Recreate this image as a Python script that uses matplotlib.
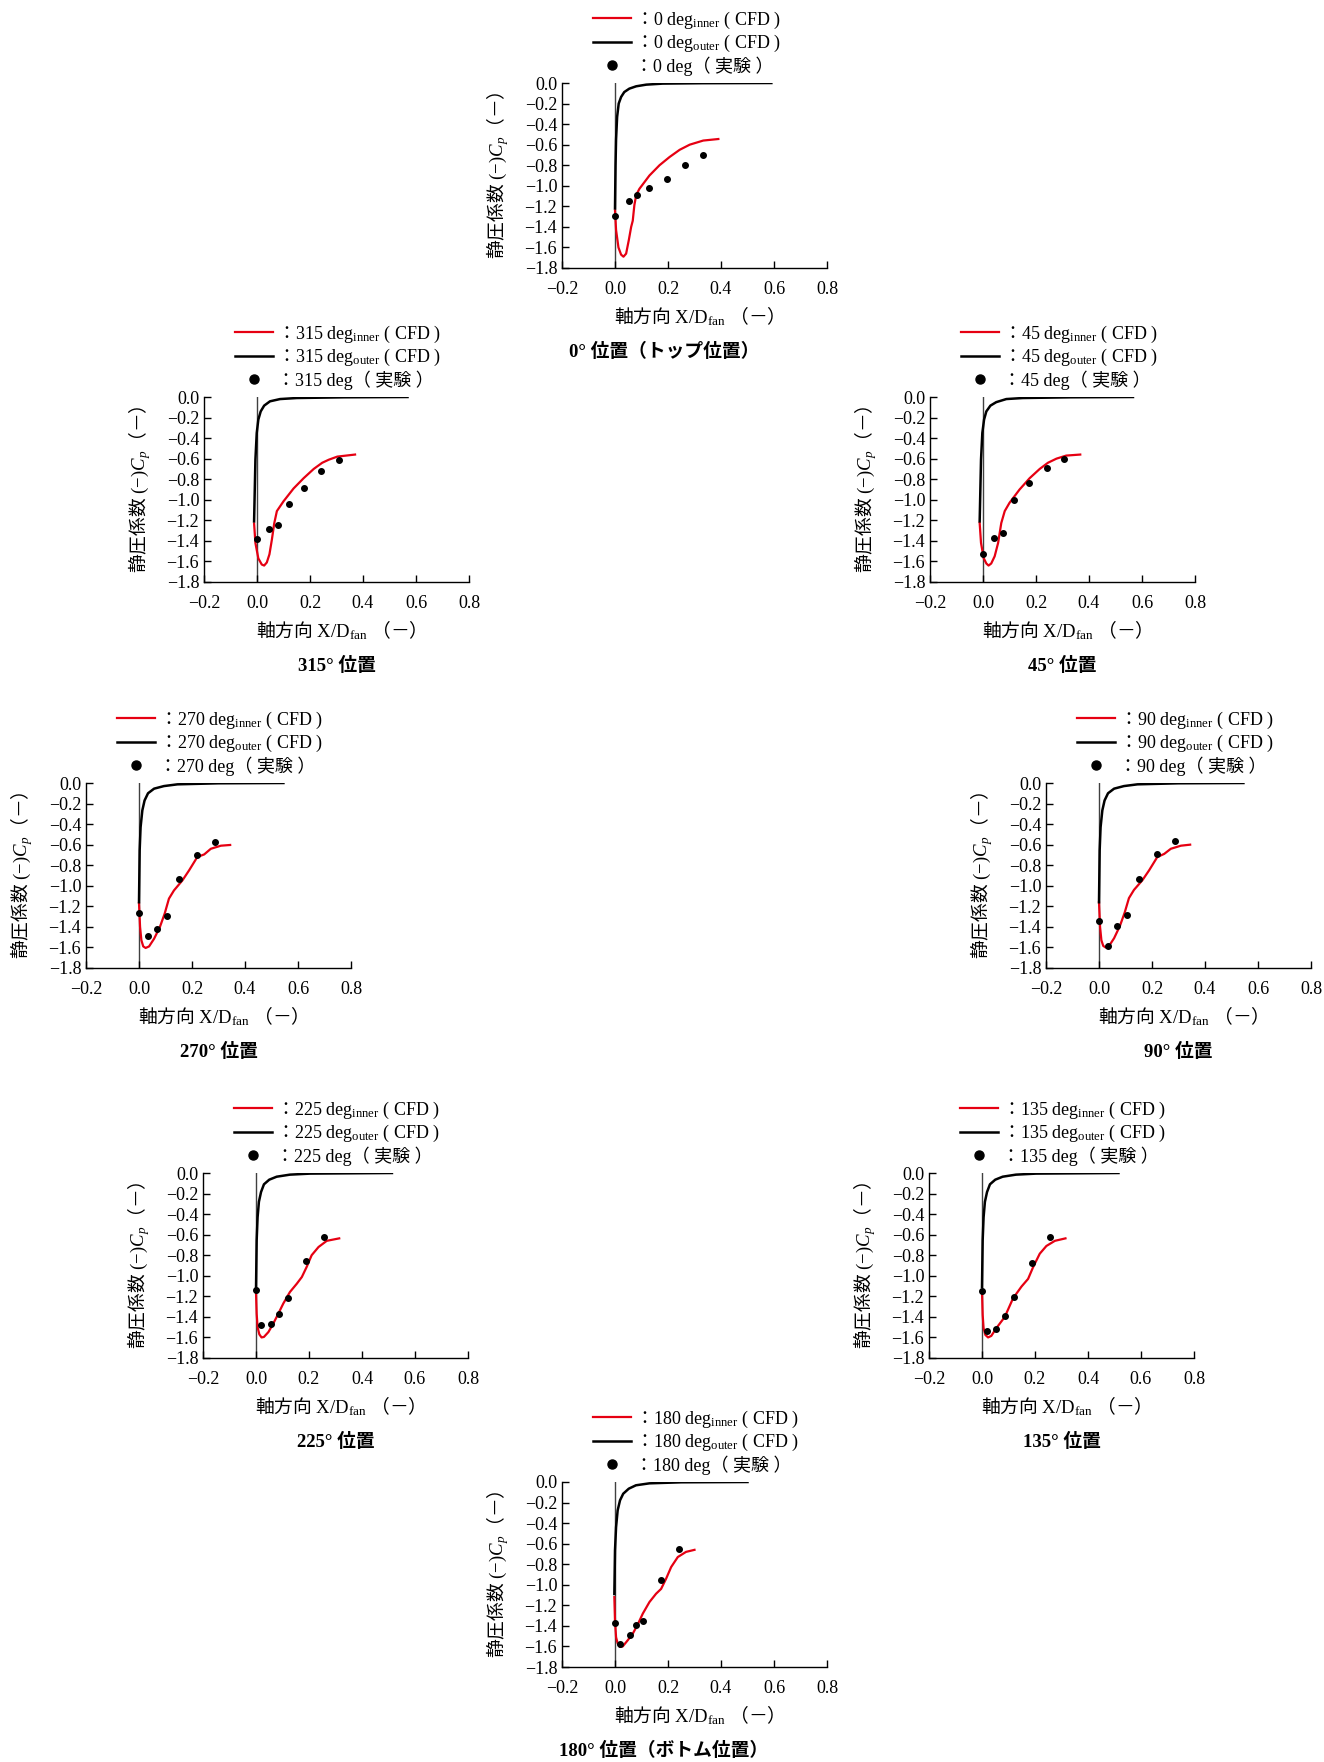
import matplotlib
matplotlib.use('Agg')
import matplotlib.pyplot as plt
from matplotlib.lines import Line2D

plt.rcParams['font.family'] = ['Liberation Serif', 'Noto Sans CJK JP']
# mathtext cannot fall back to a CJK font, so CJK inside math strings goes through \mathsf
plt.rcParams['mathtext.fontset'] = 'custom'
plt.rcParams['mathtext.rm'] = 'Liberation Serif'
plt.rcParams['mathtext.it'] = 'Liberation Serif:italic'
plt.rcParams['mathtext.bf'] = 'Liberation Serif:bold'
plt.rcParams['mathtext.sf'] = 'Noto Sans CJK JP'
plt.rcParams['font.size'] = 13

RED = '#e60012'

# ---- data ----
# 0 deg (top)
x_in_0 = [0.0, 0.004, 0.013, 0.023, 0.032, 0.042, 0.052, 0.061, 0.067, 0.073, 0.08, 0.092, 0.13, 0.168, 0.206, 0.244, 0.282, 0.333, 0.39]
cp_in_0 = [-1.24, -1.43, -1.60, -1.67, -1.69, -1.66, -1.53, -1.40, -1.34, -1.19, -1.09, -1.03, -0.90, -0.80, -0.72, -0.65, -0.60, -0.56, -0.545]
x_out_0 = [0.0, 0.002, 0.004, 0.008, 0.014, 0.023, 0.035, 0.054, 0.08, 0.118, 0.18, 0.33, 0.59]
cp_out_0 = [-1.22, -0.80, -0.55, -0.33, -0.20, -0.136, -0.088, -0.055, -0.032, -0.016, -0.006, -0.002, 0.0]
x_exp_0 = [0.0, 0.052, 0.084, 0.13, 0.197, 0.265, 0.332]
cp_exp_0 = [-1.29, -1.15, -1.09, -1.02, -0.93, -0.80, -0.70]

# 315 deg
x_in_315 = [-0.011, -0.006, 0.005, 0.018, 0.027, 0.037, 0.047, 0.056, 0.065, 0.075, 0.10, 0.138, 0.176, 0.214, 0.246, 0.271, 0.303, 0.37]
cp_in_315 = [-1.23, -1.42, -1.57, -1.63, -1.64, -1.61, -1.53, -1.39, -1.23, -1.11, -1.015, -0.89, -0.79, -0.70, -0.64, -0.61, -0.58, -0.56]
x_out_315 = [-0.011, -0.006, -0.001, 0.005, 0.014, 0.027, 0.049, 0.087, 0.15, 0.33, 0.568]
cp_out_315 = [-1.21, -0.61, -0.35, -0.22, -0.14, -0.084, -0.042, -0.02, -0.01, -0.003, 0.0]
x_exp_315 = [0.0, 0.044, 0.078, 0.12, 0.176, 0.243, 0.31]
cp_exp_315 = [-1.38, -1.28, -1.25, -1.04, -0.885, -0.717, -0.616]

# 45 deg
x_in_45 = [-0.0126, -0.0075, 0.0025, 0.0126, 0.021, 0.031, 0.044, 0.057, 0.069, 0.082, 0.10, 0.138, 0.176, 0.214, 0.245, 0.277, 0.314, 0.367]
cp_in_45 = [-1.226, -1.42, -1.567, -1.62, -1.64, -1.62, -1.55, -1.42, -1.226, -1.11, -1.03, -0.90, -0.79, -0.70, -0.64, -0.60, -0.57, -0.56]
x_out_45 = [-0.0126, -0.0075, -0.0025, 0.004, 0.0126, 0.028, 0.05, 0.088, 0.15, 0.33, 0.566]
cp_out_45 = [-1.21, -0.61, -0.35, -0.22, -0.14, -0.084, -0.05, -0.02, -0.01, -0.003, 0.0]
x_exp_45 = [0.0, 0.043, 0.075, 0.117, 0.175, 0.24, 0.307]
cp_exp_45 = [-1.53, -1.37, -1.32, -1.005, -0.837, -0.694, -0.603]

# 270 deg
x_in_270 = [0.0, 0.004, 0.009, 0.016, 0.025, 0.038, 0.057, 0.079, 0.097, 0.113, 0.132, 0.164, 0.189, 0.22, 0.246, 0.271, 0.309, 0.344]
cp_in_270 = [-1.17, -1.40, -1.53, -1.59, -1.605, -1.59, -1.515, -1.40, -1.27, -1.125, -1.045, -0.947, -0.85, -0.72, -0.695, -0.64, -0.61, -0.603]
x_out_270 = [0.0, 0.0025, 0.006, 0.0126, 0.021, 0.034, 0.057, 0.094, 0.145, 0.30, 0.545]
cp_out_270 = [-1.16, -0.655, -0.43, -0.266, -0.17, -0.10, -0.055, -0.03, -0.013, -0.003, 0.0]
x_exp_270 = [0.0, 0.035, 0.069, 0.106, 0.152, 0.22, 0.286]
cp_exp_270 = [-1.265, -1.49, -1.42, -1.29, -0.93, -0.70, -0.57]

# 90 deg
x_in_90 = [0.0, 0.004, 0.009, 0.016, 0.025, 0.038, 0.057, 0.079, 0.097, 0.113, 0.132, 0.164, 0.189, 0.22, 0.246, 0.271, 0.309, 0.344]
cp_in_90 = [-1.16, -1.40, -1.53, -1.585, -1.60, -1.585, -1.51, -1.39, -1.26, -1.12, -1.04, -0.945, -0.85, -0.72, -0.69, -0.64, -0.61, -0.60]
x_out_90 = [0.0, 0.0025, 0.006, 0.0126, 0.021, 0.034, 0.057, 0.094, 0.145, 0.30, 0.545]
cp_out_90 = [-1.16, -0.655, -0.43, -0.266, -0.17, -0.10, -0.055, -0.03, -0.013, -0.003, 0.0]
x_exp_90 = [0.0, 0.035, 0.069, 0.106, 0.152, 0.22, 0.286]
cp_exp_90 = [-1.34, -1.585, -1.39, -1.28, -0.93, -0.69, -0.565]

# 225 deg
x_in_225 = [0.0, 0.0025, 0.006, 0.0126, 0.021, 0.03, 0.047, 0.065, 0.084, 0.103, 0.128, 0.154, 0.173, 0.191, 0.21, 0.236, 0.267, 0.314]
cp_in_225 = [-1.16, -1.37, -1.50, -1.57, -1.60, -1.595, -1.547, -1.466, -1.37, -1.27, -1.158, -1.077, -1.012, -0.915, -0.80, -0.72, -0.66, -0.636]
x_out_225 = [0.0, 0.0025, 0.006, 0.011, 0.019, 0.03, 0.05, 0.078, 0.128, 0.204, 0.513]
cp_out_225 = [-1.14, -0.655, -0.43, -0.28, -0.185, -0.11, -0.065, -0.036, -0.016, -0.006, 0.0]
x_exp_225 = [0.0, 0.019, 0.057, 0.086, 0.122, 0.19, 0.256]
cp_exp_225 = [-1.14, -1.48, -1.466, -1.37, -1.213, -0.86, -0.623]

# 135 deg
x_in_135 = [0.0, 0.0025, 0.006, 0.0126, 0.023, 0.035, 0.054, 0.086, 0.117, 0.149, 0.174, 0.193, 0.218, 0.243, 0.275, 0.315]
cp_in_135 = [-1.15, -1.38, -1.51, -1.575, -1.60, -1.585, -1.51, -1.40, -1.22, -1.105, -1.03, -0.915, -0.785, -0.71, -0.66, -0.636]
x_out_135 = [0.0, 0.0025, 0.006, 0.011, 0.019, 0.03, 0.05, 0.078, 0.128, 0.204, 0.515]
cp_out_135 = [-1.11, -0.655, -0.43, -0.28, -0.185, -0.11, -0.065, -0.036, -0.016, -0.006, 0.0]
x_exp_135 = [0.0, 0.019, 0.054, 0.085, 0.121, 0.188, 0.255]
cp_exp_135 = [-1.15, -1.54, -1.52, -1.395, -1.207, -0.872, -0.623]

# 180 deg (bottom)
x_in_180 = [-0.0025, 0.0, 0.004, 0.01, 0.019, 0.029, 0.048, 0.067, 0.086, 0.105, 0.13, 0.155, 0.174, 0.193, 0.212, 0.237, 0.268, 0.30]
cp_in_180 = [-1.12, -1.35, -1.51, -1.57, -1.605, -1.60, -1.54, -1.476, -1.385, -1.28, -1.168, -1.087, -1.04, -0.94, -0.827, -0.73, -0.68, -0.66]
x_out_180 = [-0.0025, 0.0, 0.004, 0.01, 0.019, 0.031, 0.052, 0.079, 0.13, 0.25, 0.50]
cp_out_180 = [-1.09, -0.665, -0.44, -0.276, -0.178, -0.114, -0.065, -0.032, -0.013, -0.003, 0.0]
x_exp_180 = [0.0, 0.019, 0.055, 0.079, 0.107, 0.174, 0.24]
cp_exp_180 = [-1.37, -1.573, -1.486, -1.395, -1.35, -0.957, -0.652]

x_ticks = [-0.2, 0.0, 0.2, 0.4, 0.6, 0.8]
y_ticks = [0.0, -0.2, -0.4, -0.6, -0.8, -1.0, -1.2, -1.4, -1.6, -1.8]

# (angle, axes left px, axes top px, title, title x pos, data)
panels = [
    ('0', 562, 83, '0° 位置（トップ位置）', 0.385, (x_in_0, cp_in_0, x_out_0, cp_out_0, x_exp_0, cp_exp_0)),
    ('315', 204, 397, '315° 位置', 0.5, (x_in_315, cp_in_315, x_out_315, cp_out_315, x_exp_315, cp_exp_315)),
    ('45', 930, 397, '45° 位置', 0.5, (x_in_45, cp_in_45, x_out_45, cp_out_45, x_exp_45, cp_exp_45)),
    ('270', 86, 783, '270° 位置', 0.5, (x_in_270, cp_in_270, x_out_270, cp_out_270, x_exp_270, cp_exp_270)),
    ('90', 1046, 783, '90° 位置', 0.5, (x_in_90, cp_in_90, x_out_90, cp_out_90, x_exp_90, cp_exp_90)),
    ('225', 203, 1173, '225° 位置', 0.5, (x_in_225, cp_in_225, x_out_225, cp_out_225, x_exp_225, cp_exp_225)),
    ('135', 929, 1173, '135° 位置', 0.5, (x_in_135, cp_in_135, x_out_135, cp_out_135, x_exp_135, cp_exp_135)),
    ('180', 562, 1482, '180° 位置（ボトム位置）', 0.385, (x_in_180, cp_in_180, x_out_180, cp_out_180, x_exp_180, cp_exp_180)),
]

W, H = 1324, 1762
AW, AH = 265, 185

fig = plt.figure(figsize=(W / 100, H / 100), dpi=100)

for ang, left, top, title, tx, (xi, ci, xo, co, xe, ce) in panels:
    ax = fig.add_axes([left / W, (H - top - AH) / H, AW / W, AH / H])
    ax.axvline(0, color='0.25', lw=1.0, zorder=1)
    ax.plot(xi, ci, color=RED, lw=1.6, zorder=3)
    ax.plot(xo, co, color='black', lw=1.8, zorder=3)
    ax.plot(xe, ce, 'o', color='black', ms=4, zorder=4)

    ax.set_xlim(-0.2, 0.8)
    ax.set_ylim(-1.8, 0.0)
    ax.set_xticks(x_ticks)
    ax.set_yticks(y_ticks)
    ax.set_xticklabels([('%.1f' % v).replace('-', '−') for v in x_ticks])
    ax.set_yticklabels([('%.1f' % abs(v)) if v == 0 else ('%.1f' % v).replace('-', '−') for v in y_ticks])
    ax.tick_params(direction='in', length=5, width=1, labelsize=13)
    ax.tick_params(axis='x', pad=9.5)
    for s in ['top', 'right']:
        ax.spines[s].set_visible(False)
    ax.spines['left'].set_linewidth(1)
    ax.spines['bottom'].set_linewidth(1)

    ax.set_xlabel('$\\mathsf{軸方向}$ X/D$_{\\mathrm{fan}}$ $\\mathsf{（－）}$', fontsize=13.5, va='center')
    ax.xaxis.set_label_coords(0.5, -48 / AH)
    ax.set_ylabel('$\\mathsf{静圧係数}$ (−)$C_p\\mathsf{（－）}$', fontsize=13.5, va='center')
    ax.yaxis.set_label_coords(-64 / AW, 0.5)
    ax.text(tx, -84 / AH, title, transform=ax.transAxes, ha='center', va='center',
            fontsize=13.5, fontweight='bold')

    handles = [Line2D([], [], color=RED, lw=1.6),
               Line2D([], [], color='black', lw=1.8),
               Line2D([], [], ls='none', marker='o', color='black', ms=6.5)]
    labels = ['$\\mathsf{：}$%s deg$_{\\mathrm{inner}}$ ( CFD )' % ang,
              '$\\mathsf{：}$%s deg$_{\\mathrm{outer}}$ ( CFD )' % ang,
              '：%s deg（ 実験 ）' % ang]
    ax.legend(handles, labels, loc='lower left', bbox_to_anchor=(31 / AW, 1.04),
              frameon=False, borderpad=0, borderaxespad=0, handlelength=2.1,
              handletextpad=0.2, labelspacing=0.12, fontsize=13)

fig.savefig('out.png', dpi=100)
